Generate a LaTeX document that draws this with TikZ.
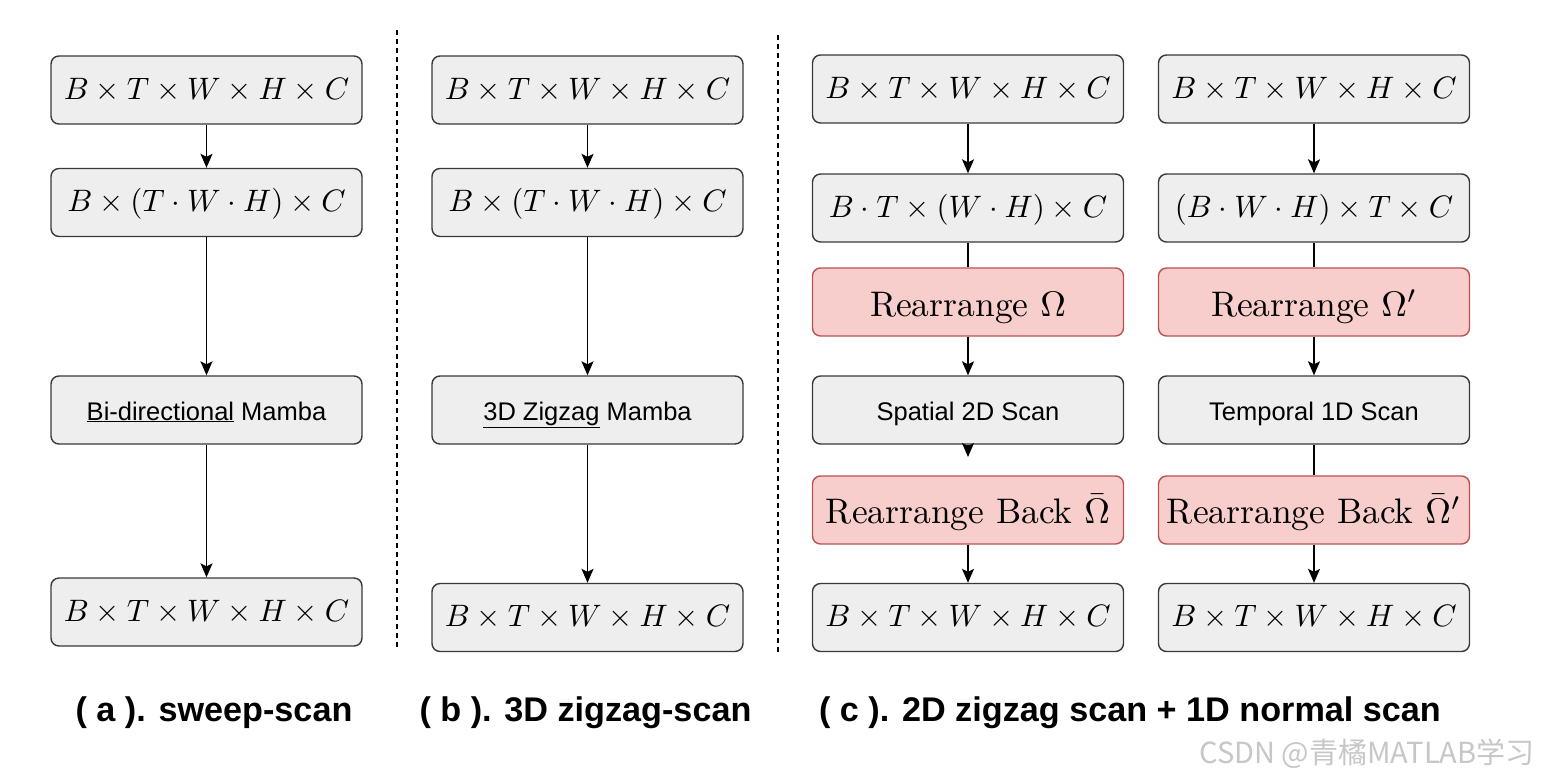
\documentclass[tikz,border=0pt]{standalone}
\usepackage{graphicx}
\usepackage{fontspec}
\newfontfamily\hv{Liberation Sans}
\newfontfamily\cjk{Noto Sans CJK SC}
\usetikzlibrary{arrows.meta}
\definecolor{boxfill}{HTML}{EEEEEE}
\definecolor{boxdraw}{HTML}{36393D}
\definecolor{redfill}{HTML}{F8CECC}
\definecolor{reddraw}{HTML}{B85450}
\newcommand{\mth}[1]{\scalebox{3.1}{$#1$}}
\newcommand{\rtxt}[1]{\scalebox{3.55}{#1}}
\begin{document}
\begin{tikzpicture}[x=1pt,y=-1pt,
  box/.style={draw=boxdraw, fill=boxfill, rounded corners=8pt, line width=1.4pt, minimum width=311pt, minimum height=68pt, inner sep=0pt, font=\normalsize, text height=18.6pt, text depth=0pt},
  redbox/.style={box, draw=reddraw, fill=redfill, text height=28pt},
  sbox/.style={box, font=\hv\fontsize{25.5}{30}\selectfont, text height=20pt},
  conn/.style={line width=1.4pt, draw=black},
  arr/.style={conn, -{Stealth[length=14pt,width=12pt,inset=3pt]}},
  sep/.style={line width=1.3pt, dash pattern=on 5pt off 4pt},
  captxt/.style={font=\hv\bfseries\fontsize{34.2}{40}\selectfont, inner sep=0pt}]
\fill[white] (0,0) rectangle (1542,780);
\useasboundingbox (0,0) rectangle (1542,780);
% separators
\draw[sep] (397,30) -- (397,648);
\draw[sep] (778,35) -- (778,652);
% column a
\node[box] (a1) at (206.5,90) {\mth{B\times T\times W\times H\times C}};
\node[box] (a2) at (206.5,202.5) {\mth{B\times (T\cdot W\cdot H)\times C}};
\node[sbox] (a3) at (206.5,410) {\underline{Bi-directional} Mamba};
\node[box] (a4) at (206.5,612) {\mth{B\times T\times W\times H\times C}};
\draw[arr] (a1) -- (a2);
\draw[arr] (a2) -- (a3);
\draw[arr] (a3) -- (a4);
% column b
\node[box] (b1) at (587.5,90) {\mth{B\times T\times W\times H\times C}};
\node[box] (b2) at (587.5,202.5) {\mth{B\times (T\cdot W\cdot H)\times C}};
\node[sbox] (b3) at (587.5,410) {\underline{3D Zigzag} Mamba};
\node[box] (b4) at (587.5,617.5) {\mth{B\times T\times W\times H\times C}};
\draw[arr] (b1) -- (b2);
\draw[arr] (b2) -- (b3);
\draw[arr] (b3) -- (b4);
% column c, left
\node[box] (c1) at (968,89) {\mth{B\times T\times W\times H\times C}};
\node[box] (c2) at (968,208) {\mth{B\cdot T\times (W\cdot H)\times C}};
\node[redbox] (c3) at (968,302) {\rtxt{Rearrange $\Omega$}};
\node[sbox] (c4) at (968,410) {Spatial 2D Scan};
\node[redbox, text height=26.6pt] (c5) at (968,510) {\rtxt{Rearrange Back $\bar{\Omega}$}};
\node[box] (c6) at (968,617.5) {\mth{B\times T\times W\times H\times C}};
\coordinate (c4tip) at (968,457);
\draw[arr] (c1) -- (c2);
\draw[conn] (c2) -- (c3);
\draw[arr] (c3) -- (c4);
\draw[arr] (c4.south) -- (c4tip);
\draw[arr] (c5) -- (c6);
% column c, right
\node[box] (d1) at (1314,89) {\mth{B\times T\times W\times H\times C}};
\node[box] (d2) at (1314,208) {\mth{(B\cdot W\cdot H)\times T\times C}};
\node[redbox] (d3) at (1314,302) {\rtxt{Rearrange $\Omega'$}};
\node[sbox] (d4) at (1314,410) {Temporal 1D Scan};
\node[redbox, text height=26.6pt] (d5) at (1314,510) {\rtxt{Rearrange Back $\bar{\Omega}'$}};
\node[box] (d6) at (1314,617.5) {\mth{B\times T\times W\times H\times C}};
\draw[arr] (d1) -- (d2);
\draw[conn] (d2) -- (d3);
\draw[arr] (d3) -- (d4);
\draw[conn] (d4) -- (d5);
\draw[arr] (d5) -- (d6);
% captions
\node[captxt] (la) at (214,713) {( a ). sweep-scan};
\node[captxt] (lb) at (585.5,713) {( b ). 3D zigzag-scan};
\node[captxt] (lc) at (1130,713) {( c ). 2D zigzag scan + 1D normal scan};
% watermark
\node[font=\cjk\fontsize{29}{33}\selectfont, text=black!22, inner sep=0pt] (wm) at (1367,754) {CSDN @青橘MATLAB学习};
\end{tikzpicture}
\end{document}
